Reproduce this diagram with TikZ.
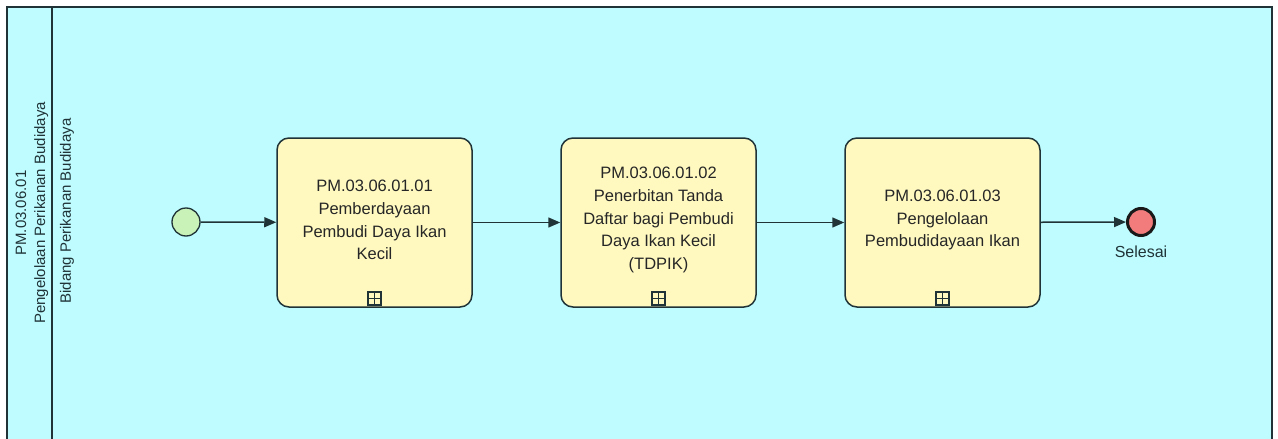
\documentclass[tikz,border=0pt]{standalone}
\usepackage{fontspec}
\setmainfont{Liberation Sans}
\usetikzlibrary{arrows.meta}
\definecolor{poolbg}{RGB}{191,252,255}
\definecolor{taskbg}{RGB}{255,249,192}
\definecolor{startbg}{RGB}{200,242,184}
\definecolor{endbg}{RGB}{242,124,124}
\definecolor{ink}{RGB}{32,52,56}
\tikzset{
  lbl/.style={font=\fontsize{15}{19}\selectfont, text=ink},
  taskbox/.style={draw=ink, line width=1.5pt, fill=taskbg, rounded corners=12pt,
    minimum width=195pt, minimum height=169pt, inner sep=0pt},
  tasktext/.style={font=\fontsize{16.5}{22.8}\selectfont, align=center, text=black!85},
  startev/.style={circle, draw=ink, line width=1.3pt, fill=startbg, minimum size=28pt, inner sep=0pt},
  endev/.style={circle, draw=black!90, line width=3pt, fill=endbg, minimum size=27pt, inner sep=0pt},
  flow/.style={draw=ink, line width=1.5pt, -{Triangle[length=12pt,width=10pt]}},
  plusmark/.style={draw=ink, line width=1.2pt, fill=taskbg, minimum size=13pt, inner sep=0pt}
}
\begin{document}
\begin{tikzpicture}[x=1pt,y=-1pt]
\useasboundingbox (0,0) rectangle (1278,439);
\clip (0,0) rectangle (1278,439);
% pool
\draw[draw=ink, line width=1.2pt, fill=poolbg] (7,7) rectangle (1272,450);
\draw[draw=ink, line width=2.5pt] (52,7) -- (52,450);
\node[lbl, rotate=90, align=center] (pool) at (32,213) {PM.03.06.01\\Pengelolaan Perikanan Budidaya};
\node[lbl, rotate=90] (lane) at (67,211) {Bidang Perikanan Budidaya};
% events
\node[startev] (start) at (186,222) {};
\node[endev] (end) at (1141,222) {};
\node[lbl, anchor=north, font=\fontsize{16}{19}\selectfont] (endlbl) at (1141,242) {Selesai};
% tasks
\node[taskbox] (t1) at (374.5,222.5) {};
\node[taskbox] (t2) at (658.5,222.5) {};
\node[taskbox] (t3) at (942.5,222.5) {};
\node[tasktext] (t1t) at (374.5,220) {PM.03.06.01.01\\Pemberdayaan\\Pembudi Daya Ikan\\Kecil};
\node[tasktext] (t2t) at (658.5,220) {PM.03.06.01.02\\Penerbitan Tanda\\Daftar bagi Pembudi\\Daya Ikan Kecil\\(TDPIK)};
\node[tasktext] (t3t) at (942.5,220) {PM.03.06.01.03\\Pengelolaan\\Pembudidayaan Ikan};
% collapsed sub-process markers
\foreach \n/\x in {m1/374.5, m2/658.5, m3/942.5}{
  \node[plusmark] (\n) at (\x,298.5) {};
  \draw[ink, line width=1.2pt] (\n.north) -- (\n.south) (\n.west) -- (\n.east);
}
% flows
\draw[flow] (start) -- (t1);
\draw[flow] (t1) -- (t2);
\draw[flow] (t2) -- (t3);
\draw[flow] (t3) -- (end);
\end{tikzpicture}
\end{document}
